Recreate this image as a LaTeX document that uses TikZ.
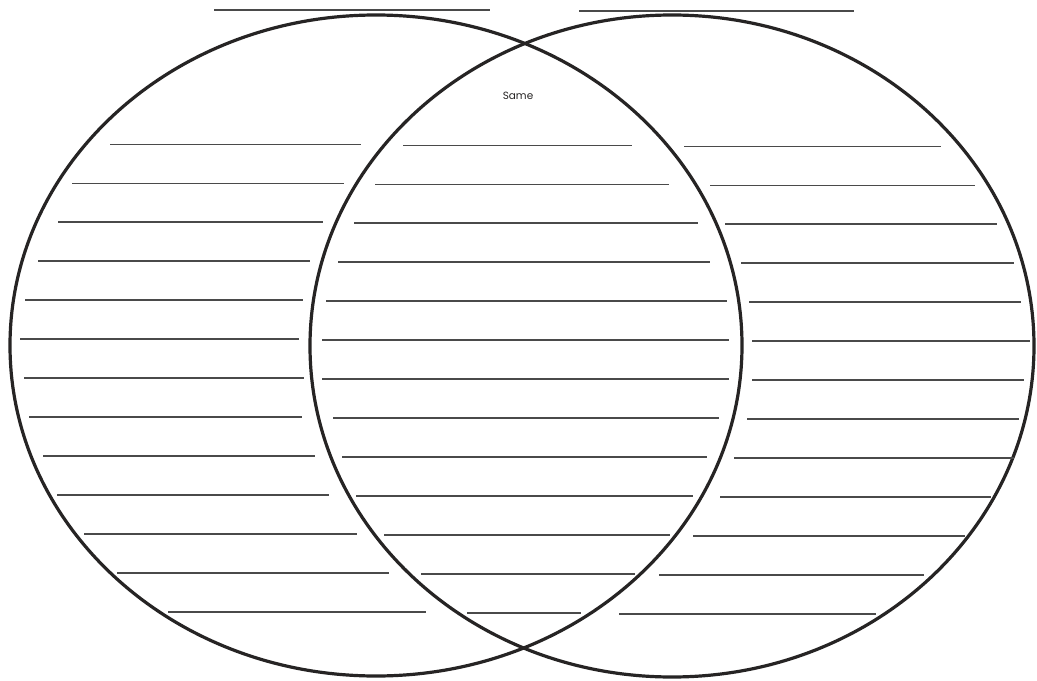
\documentclass[tikz,border=0pt]{standalone}
\usepackage{fontspec}
\setmainfont{Poppins}
\definecolor{ringc}{HTML}{262424}
\definecolor{rulec}{HTML}{4A4A4A}
\begin{document}
\begin{tikzpicture}[x=1bp,y=-1bp,
  ring/.style={line width=3.2bp, draw=ringc},
  rule/.style={line width=1.7bp, draw=rulec},
  label/.style={font=\fontsize{10.5}{12}\selectfont, text=ringc, inner sep=0pt}]
\useasboundingbox (0,0) rectangle (1037,681);
\fill[white] (0,0) rectangle (1037,681);
% name lines on top
\draw[rule] (214,10) -- (490,10);
\draw[rule] (579,11) -- (854,11);
% two overlapping ellipses
\draw[ring] (376,345.5) ellipse [x radius=366, y radius=330.5];
\draw[ring] (672,346) ellipse [x radius=362, y radius=331];
% writing lines: y / left start,end / middle start,end / right start,end
\foreach \y/\la/\lb/\ma/\mb/\ra/\rb in {
  144.5/110/361/403/632/684/941,
  183.5/72/344/375/669/710/975,
  222.3/58/323/354/698/725/997,
  261.2/38/310/338/710/741/1014,
  300.1/25/303/326/727/749/1021,
  339/20/299/322/729/752/1030,
  378/24/304/322/729/752/1024,
  417/29/302/333/719/747/1019,
  456/43/315/342/707/734/1014,
  495/57/329/356/693/720/991,
  534/84/357/384/670/693/965,
  573/117/389/421/635/659/924,
  612/168/426/467/581/619/876}{
  \draw[rule] (\la,\y) -- (\lb,\y);
  \draw[rule] (\ma,\y+1) -- (\mb,\y+1);
  \draw[rule] (\ra,\y+2) -- (\rb,\y+2);
}
\node[label] (same) at (518,96) {Same};
\end{tikzpicture}
\end{document}
